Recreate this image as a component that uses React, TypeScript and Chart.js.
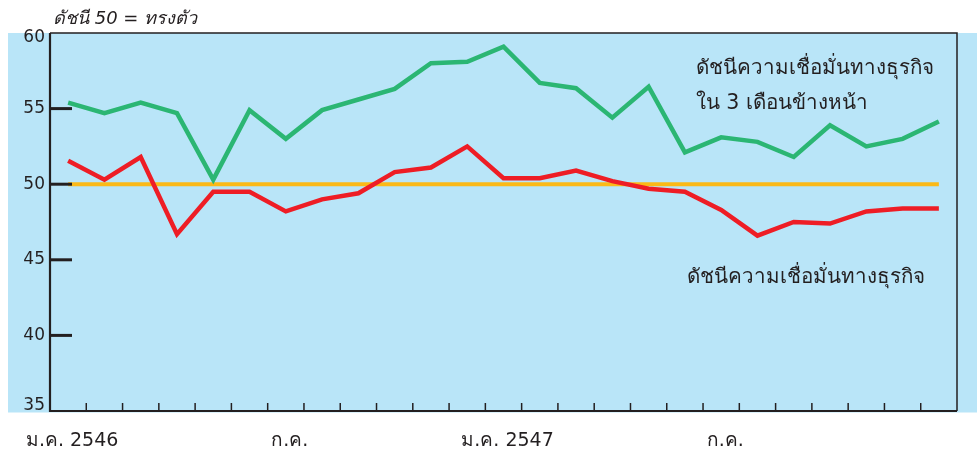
import React, { useEffect, useRef } from "react";
import { Chart, registerables } from "chart.js";

Chart.register(...registerables);

const months = [
  "ม.ค. 2546", "ก.พ.", "มี.ค.", "เม.ย.", "พ.ค.", "มิ.ย.", "ก.ค.", "ส.ค.", "ก.ย.", "ต.ค.", "พ.ย.", "ธ.ค.",
  "ม.ค. 2547", "ก.พ.", "มี.ค.", "เม.ย.", "พ.ค.", "มิ.ย.", "ก.ค.", "ส.ค.", "ก.ย.", "ต.ค.", "พ.ย.", "ธ.ค.",
  "ม.ค. 2548",
];
const shownLabels: Record<number, string> = { 0: "ม.ค. 2546", 6: "ก.ค.", 12: "ม.ค. 2547", 18: "ก.ค." };

const outlook3m = [
  55.4, 54.7, 55.4, 54.7, 50.3, 54.9, 53.0, 54.9, 55.6, 56.3, 58.0, 58.1,
  59.1, 56.7, 56.35, 54.4, 56.45, 52.1, 53.1, 52.8, 51.8, 53.9, 52.5, 53.0,
  54.15,
];
const currentIndex = [
  51.55, 50.3, 51.8, 46.7, 49.5, 49.5, 48.2, 49.0, 49.4, 50.8, 51.1, 52.5,
  50.4, 50.4, 50.9, 50.2, 49.7, 49.5, 48.3, 46.6, 47.5, 47.4, 48.2, 48.4,
  48.4,
];
const neutralLine = months.map(() => 50);

const yTicks = [35, 40, 45, 50, 55, 60];

const titleText = "ดัชนี 50 = ทรงตัว";
const upperNote = ["ดัชนีความเชื่อมั่นทางธุรกิจ", "ใน 3 เดือนข้างหน้า"];
const lowerNote = "ดัชนีความเชื่อมั่นทางธุรกิจ";

const FONT = "'DejaVu Sans', 'Noto Sans', sans-serif";
const BG = "#b9e5f8";
const INK = "#231f20";

const decorPlugin = {
  id: "decor",
  beforeDraw(chart: any) {
    const { ctx, chartArea, width } = chart;
    ctx.save();
    ctx.fillStyle = BG;
    ctx.fillRect(chartArea.left - 42, chartArea.top, width - (chartArea.left - 42), chartArea.bottom - chartArea.top + 1.5);
    ctx.restore();
  },
  afterDraw(chart: any) {
    const { ctx, chartArea, scales } = chart;
    const x = scales.x;
    const y = scales.y;
    const { left, right, top, bottom } = chartArea;
    ctx.save();
    ctx.strokeStyle = INK;
    // frame
    ctx.lineWidth = 1.5;
    ctx.beginPath();
    ctx.moveTo(left, top);
    ctx.lineTo(right, top);
    ctx.lineTo(right, bottom);
    ctx.stroke();
    ctx.lineWidth = 2.2;
    ctx.beginPath();
    ctx.moveTo(left, top);
    ctx.lineTo(left, bottom);
    ctx.lineTo(right, bottom);
    ctx.stroke();
    // y ticks inside + labels
    ctx.fillStyle = INK;
    ctx.font = `17px ${FONT}`;
    ctx.textAlign = "right";
    ctx.textBaseline = "middle";
    y.ticks.forEach((t: any) => {
      const py = y.getPixelForValue(t.value);
      const ly = Math.min(Math.max(py, top + 5), bottom - 5);
      ctx.fillText(String(t.value), left - 5, ly);
      if (t.value <= y.min || t.value >= y.max) return;
      ctx.lineWidth = 3;
      ctx.beginPath();
      ctx.moveTo(left, py);
      ctx.lineTo(left + 22, py);
      ctx.stroke();
    });
    // x ticks between categories
    ctx.lineWidth = 1.5;
    for (let i = 0; i < months.length - 1; i++) {
      const px = (x.getPixelForValue(i) + x.getPixelForValue(i + 1)) / 2;
      ctx.beginPath();
      ctx.moveTo(px, bottom);
      ctx.lineTo(px, bottom - 8);
      ctx.stroke();
    }
    // title
    ctx.font = `italic 18px ${FONT}`;
    ctx.textAlign = "left";
    ctx.textBaseline = "alphabetic";
    ctx.fillText(titleText, left + 3, top - 9);
    // notes
    ctx.font = `20.6px ${FONT}`;
    ctx.textBaseline = "middle";
    const ux = x.getPixelForValue(17.3);
    ctx.fillText(upperNote[0], ux, y.getPixelForValue(57.65));
    ctx.fillText(upperNote[1], ux, y.getPixelForValue(55.3));
    ctx.fillText(lowerNote, x.getPixelForValue(17.05), y.getPixelForValue(43.8));
    ctx.restore();
  },
};

export default function App() {
  const ref = useRef<HTMLCanvasElement>(null);
  useEffect(() => {
    if (!ref.current) return;
    const chart = new Chart(ref.current, {
      type: "line",
      data: {
        labels: months,
        datasets: [
          { data: outlook3m, borderColor: "#2bb673", borderWidth: 4.5, pointRadius: 0, tension: 0 },
          { data: currentIndex, borderColor: "#ee1d25", borderWidth: 4.5, pointRadius: 0, tension: 0 },
          { data: neutralLine, borderColor: "#fbb917", borderWidth: 4, pointRadius: 0, tension: 0 },
        ],
      },
      options: {
        animation: false,
        responsive: false,
        layout: { padding: { top: 33, right: 20, left: 0, bottom: 0 } },
        plugins: { legend: { display: false }, tooltip: { enabled: false }, title: { display: false } },
        scales: {
          x: {
            type: "category",
            offset: true,
            grid: { display: false, drawTicks: false },
            border: { display: false },
            ticks: {
              autoSkip: false,
              maxRotation: 0,
              padding: 19,
              labelOffset: 4,
              color: INK,
              font: { size: 19, family: FONT },
              callback: (_v: any, i: number) => shownLabels[i] ?? "",
            },
            afterFit: (s: any) => { s.height = 41; },
          },
          y: {
            min: 35,
            max: 60,
            afterBuildTicks: (s: any) => { s.ticks = yTicks.map((v) => ({ value: v })); },
            grid: { display: false, drawTicks: false },
            border: { display: false },
            ticks: { display: false },
            afterFit: (s: any) => { s.width = 50; },
          },
        },
      },
      plugins: [decorPlugin],
    });
    return () => chart.destroy();
  }, []);
  return (
    <div style={{ position: "fixed", left: 0, top: 0, width: 977, height: 452 }}>
      <canvas ref={ref} width={977} height={452} style={{ display: "block" }} />
    </div>
  );
}
